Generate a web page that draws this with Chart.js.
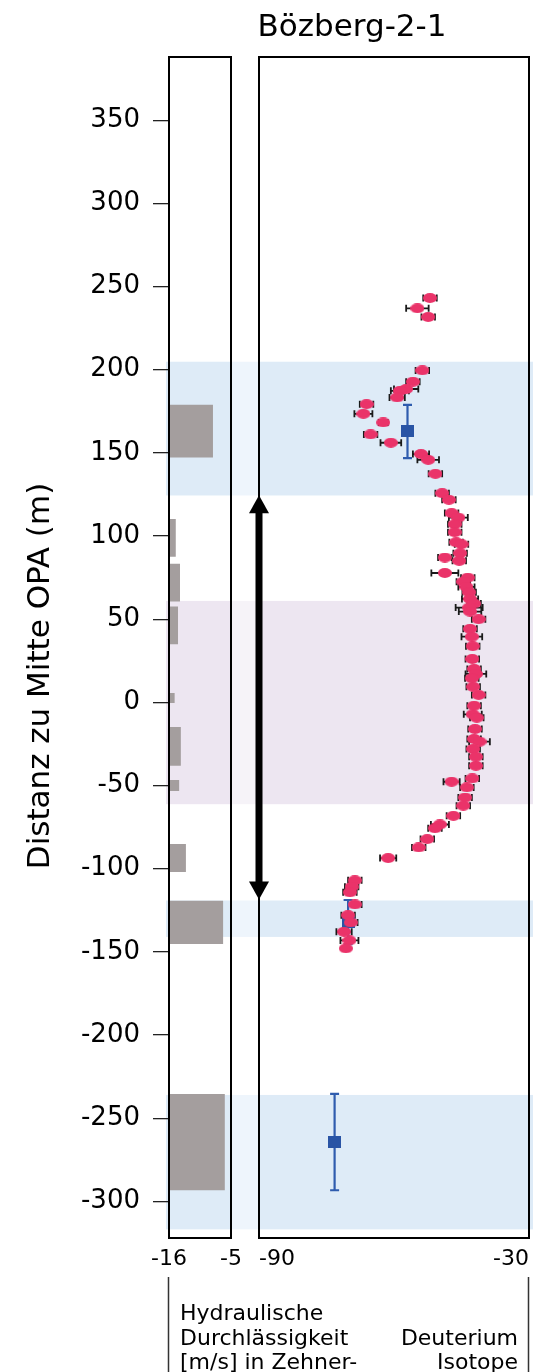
<!DOCTYPE html>
<html>
<head>
<meta charset="utf-8">
<script src="https://cdn.jsdelivr.net/npm/chart.js@4.4.1/dist/chart.umd.min.js"></script>
<style>
  body { margin: 0; background: #fff; }
  #wrap { position: relative; width: 533px; height: 1372px; overflow: hidden; }
  canvas { position: absolute; left: 0; top: 0; }
</style>
</head>
<body>
<div id="wrap">
  <canvas id="kf-chart" width="533" height="1372"></canvas>
  <canvas id="dd-chart" width="533" height="1372"></canvas>
</div>
<script>
// depth axis (m from middle of OPA)
const depthMin = -322;
const depthMax = 388;
const depthTicks = [350, 300, 250, 200, 150, 100, 50, 0, -50, -100, -150, -200, -250, -300];

// hydraulic conductivity, exponent of 10 (m/s)
const kTicks = [-16, -5];
const kTop = [179, 110.3, 83.3, 57.6, 5.7, -14.8, -46.7, -85.2, -119.3, -235.4];
const kBottom = [147.2, 87.5, 60.6, 35.0, -0.4, -38.1, -53.3, -102.0, -145.3, -293.3];
const kValue = [-8.2, -14.8, -14.05, -14.4, -15.0, -13.9, -14.2, -13.0, -6.4, -6.1];

// deuterium porewater
const dTicks = [-90, -30];
const dDepth = [243.1, 236.9, 231.7, 199.6, 192.8, 188.4, 187.3, 183.3, 179.3, 173.5,
  168.3, 161.1, 156.1, 149.3, 145.8, 137.4, 125.8, 121.8, 113.8, 111.1,
  107.1, 102.3, 96.3, 95.1, 89.7, 85.1, 87.1, 77.8, 75.0, 72.6,
  69.4, 66.2, 62.2, 59.4, 57.0, 54.6, 50.0, 44.2, 39.5, 33.8,
  26.1, 20.1, 17.1, 14.5, 9.4, 4.5, -2.0, -7.2, -9.2, -16.0,
  -22.0, -23.6, -28.0, -32.7, -38.1, -45.7, -47.7, -51.1, -57.2, -62.1,
  -68.2, -73.4, -75.7, -82.2, -87.2, -93.6, -107.0, -110.9, -114.2, -121.5,
  -127.9, -132.3, -137.9, -143.1, -147.9];
const dValue = [-52.0, -54.8, -52.4, -53.7, -55.8, -57.3, -58.7, -59.3, -66.1, -66.8,
  -62.4, -65.2, -60.7, -54.0, -52.4, -50.8, -49.3, -47.8, -47.2, -45.7,
  -46.5, -46.5, -46.2, -45.0, -45.3, -45.5, -48.7, -48.7, -43.6, -44.6,
  -43.9, -43.3, -43.1, -42.2, -43.3, -43.1, -41.2, -43.1, -42.7, -42.5,
  -42.6, -42.2, -41.8, -42.7, -42.4, -41.2, -42.2, -42.5, -41.6, -42.0,
  -42.2, -41.0, -42.4, -41.8, -41.8, -42.6, -47.2, -43.8, -44.2, -44.6,
  -46.8, -49.8, -50.9, -52.6, -54.5, -61.3, -68.7, -69.4, -69.8, -68.7,
  -70.2, -69.6, -71.1, -69.9, -70.7];
const dErr = [1.5, 2.5, 1.5, 1.5, 1.5, 2.7, 2.0, 1.7, 1.5, 2.0,
  1.0, 1.5, 2.3, 1.8, 2.4, 1.5, 1.5, 1.5, 1.5, 2.1,
  1.5, 1.5, 1.5, 1.5, 1.5, 1.5, 1.5, 3.0, 1.5, 1.5,
  1.8, 1.5, 1.8, 1.5, 3.0, 2.5, 1.5, 1.5, 2.3, 1.5,
  1.5, 1.5, 2.3, 1.5, 1.5, 1.5, 1.5, 2.0, 1.5, 1.5,
  1.5, 2.3, 1.5, 1.5, 1.5, 1.5, 1.8, 1.5, 1.5, 1.5,
  1.5, 2.0, 1.5, 1.5, 1.5, 1.8, 1.5, 1.5, 1.5, 1.5,
  1.5, 1.5, 1.7, 2.0, 0];

// deuterium from borehole water samples
const sDepth = [162.9, -132.1, -264.3];
const sValue = [-57.0, -70.2, -73.2];
const sErr = [16, 13.3, 29];

// shaded zones [top, bottom]
const blueZones = [[204.8, 124.4], [-119.1, -141.0], [-236.0, -316.8]];
const opaZone = [61.0, -61.2];
const arrowTop = 124.5;
const arrowBottom = -118.5;

const FONT = 'DejaVu Sans';

function ellipseImg(w, h, color) {
  const c = document.createElement('canvas');
  c.width = w; c.height = h;
  const g = c.getContext('2d');
  g.fillStyle = color;
  g.beginPath();
  g.ellipse(w / 2, h / 2, w / 2, h / 2, 0, 0, Math.PI * 2);
  g.fill();
  return c;
}
function rectImg(w, h, color) {
  const c = document.createElement('canvas');
  c.width = w; c.height = h;
  const g = c.getContext('2d');
  g.fillStyle = color;
  g.fillRect(0, 0, w, h);
  return c;
}

function drawBox(ctx, a) {
  ctx.save();
  ctx.strokeStyle = '#000';
  ctx.lineWidth = 2;
  ctx.strokeRect(a.left, a.top, a.right - a.left, a.bottom - a.top);
  ctx.restore();
}

// background zones, titles and notes (bottom canvas)
const kfDecor = {
  id: 'kfDecor',
  beforeDraw(chart) {
    const {ctx, scales: {y}} = chart;
    const zone = (top, bottom, main, gap) => {
      const y1 = y.getPixelForValue(top), y2 = y.getPixelForValue(bottom);
      ctx.fillStyle = main;
      ctx.fillRect(166, y1, 231 - 166, y2 - y1);
      ctx.fillRect(259, y1, 533 - 259, y2 - y1);
      ctx.fillStyle = gap;
      ctx.fillRect(231, y1, 28, y2 - y1);
    };
    ctx.save();
    zone(opaZone[0], opaZone[1], '#ede6f1', '#f6f3f8');
    blueZones.forEach(z => zone(z[0], z[1], '#deebf7', '#eef5fc'));
    ctx.restore();
  },
  afterDraw(chart) {
    const {ctx} = chart;
    drawBox(ctx, chart.chartArea);
    ctx.save();
    ctx.fillStyle = '#000';
    ctx.font = '31px "' + FONT + '"';
    ctx.textAlign = 'center';
    ctx.textBaseline = 'alphabetic';
    ctx.fillText('Bözberg-2-1', 352, 36);

    ctx.save();
    ctx.translate(41, 676);
    ctx.rotate(-Math.PI / 2);
    ctx.font = '31px "' + FONT + '"';
    ctx.textBaseline = 'middle';
    ctx.fillText('Distanz zu Mitte OPA (m)', 0, 0);
    ctx.restore();

    ctx.strokeStyle = '#333';
    ctx.lineWidth = 1.5;
    ctx.beginPath();
    ctx.moveTo(168.5, 1277); ctx.lineTo(168.5, 1372);
    ctx.moveTo(528.5, 1277); ctx.lineTo(528.5, 1372);
    ctx.stroke();

    ctx.font = '22px "' + FONT + '"';
    ctx.textAlign = 'left';
    ctx.fillText('Hydraulische', 180, 1320);
    ctx.fillText('Durchlässigkeit', 180, 1345);
    ctx.fillText('[m/s] in Zehner-', 180, 1369);
    ctx.textAlign = 'right';
    ctx.fillText('Deuterium', 518, 1345);
    ctx.fillText('Isotope', 518, 1369);
    ctx.restore();
  }
};

// error bars, frame and arrow (top canvas)
const ddDecor = {
  id: 'ddDecor',
  beforeDatasetsDraw(chart) {
    const {ctx, scales: {x, y}} = chart;
    ctx.save();
    ctx.strokeStyle = '#1a1a1a';
    ctx.lineWidth = 1.8;
    dDepth.forEach((d, i) => {
      if (!dErr[i]) return;
      const py = y.getPixelForValue(d);
      const x1 = x.getPixelForValue(dValue[i] - dErr[i]);
      const x2 = x.getPixelForValue(dValue[i] + dErr[i]);
      ctx.beginPath();
      ctx.moveTo(x1, py); ctx.lineTo(x2, py);
      ctx.moveTo(x1, py - 3.5); ctx.lineTo(x1, py + 3.5);
      ctx.moveTo(x2, py - 3.5); ctx.lineTo(x2, py + 3.5);
      ctx.stroke();
    });
    ctx.strokeStyle = '#2f5cae';
    ctx.lineWidth = 2.2;
    sDepth.forEach((d, i) => {
      const px = x.getPixelForValue(sValue[i]);
      const y1 = y.getPixelForValue(d + sErr[i]);
      const y2 = y.getPixelForValue(d - sErr[i]);
      ctx.beginPath();
      ctx.moveTo(px, y1); ctx.lineTo(px, y2);
      ctx.moveTo(px - 4.5, y1); ctx.lineTo(px + 4.5, y1);
      ctx.moveTo(px - 4.5, y2); ctx.lineTo(px + 4.5, y2);
      ctx.stroke();
    });
    ctx.restore();
  },
  afterDraw(chart) {
    const {ctx, chartArea, scales: {y}} = chart;
    drawBox(ctx, chartArea);
    const ax = chartArea.left;
    const yt = y.getPixelForValue(arrowTop);
    const yb = y.getPixelForValue(arrowBottom);
    const head = 18, half = 10;
    ctx.save();
    ctx.fillStyle = '#000';
    ctx.strokeStyle = '#000';
    ctx.lineWidth = 7;
    ctx.beginPath();
    ctx.moveTo(ax, yt + head - 1); ctx.lineTo(ax, yb - head + 1);
    ctx.stroke();
    ctx.beginPath();
    ctx.moveTo(ax, yt); ctx.lineTo(ax + half, yt + head); ctx.lineTo(ax - half, yt + head);
    ctx.closePath(); ctx.fill();
    ctx.beginPath();
    ctx.moveTo(ax, yb); ctx.lineTo(ax + half, yb - head); ctx.lineTo(ax - half, yb - head);
    ctx.closePath(); ctx.fill();
    ctx.restore();
  }
};

// one filled shape per conductivity interval
const kDatasets = kValue.map((v, i) => ({
  data: [
    {x: kTicks[0], y: kTop[i]}, {x: v, y: kTop[i]},
    {x: v, y: kBottom[i]}, {x: kTicks[0], y: kBottom[i]}
  ],
  fill: 'shape',
  backgroundColor: '#a49e9e',
  borderWidth: 0,
  pointRadius: 0,
  tension: 0
}));

// bottom axis: invisible tick marks give the label offset, no side padding
const bottomAxis = (ticks, align) => ({
  type: 'linear', min: ticks[0], max: ticks[1],
  afterBuildTicks: s => { s.ticks = ticks.map(v => ({ value: v })); },
  afterFit: s => { s.height = 134; },
  grid: { drawOnChartArea: false, tickLength: 8, color: 'rgba(0,0,0,0)' },
  border: { display: false },
  ticks: { padding: 0, align: align, autoSkip: false, maxRotation: 0, color: '#000', font: { family: FONT, size: 22 } }
});

new Chart(document.getElementById('kf-chart'), {
  type: 'line',
  data: { datasets: kDatasets },
  options: {
    responsive: false,
    animation: false,
    events: [],
    layout: { autoPadding: false, padding: { top: 57, right: 302, left: 0, bottom: 0 } },
    plugins: { legend: { display: false }, tooltip: { enabled: false } },
    scales: {
      x: bottomAxis(kTicks, 'center'),
      y: {
        type: 'linear', min: depthMin, max: depthMax,
        afterBuildTicks: s => { s.ticks = depthTicks.map(v => ({ value: v })); },
        afterFit: s => { s.width = 169; },
        grid: { drawOnChartArea: false, tickLength: 16, color: '#222', lineWidth: 1.3 },
        border: { display: false },
        ticks: { padding: 13, color: '#000', font: { family: FONT, size: 26 } }
      }
    }
  },
  plugins: [kfDecor]
});

new Chart(document.getElementById('dd-chart'), {
  type: 'scatter',
  data: {
    datasets: [
      {
        data: dValue.map((v, i) => ({ x: v, y: dDepth[i] })),
        pointStyle: ellipseImg(14, 10, '#ea3369'),
        pointRadius: 6
      },
      {
        data: sValue.map((v, i) => ({ x: v, y: sDepth[i] })),
        pointStyle: rectImg(13, 12, '#2954a5'),
        pointRadius: 6
      }
    ]
  },
  options: {
    responsive: false,
    animation: false,
    events: [],
    layout: { autoPadding: false, padding: { top: 57, right: 4, left: 259, bottom: 0 } },
    plugins: { legend: { display: false }, tooltip: { enabled: false } },
    scales: {
      x: bottomAxis(dTicks, 'inner'),
      y: { type: 'linear', min: depthMin, max: depthMax, display: false }
    }
  },
  plugins: [ddDecor]
});
</script>
</body>
</html>
